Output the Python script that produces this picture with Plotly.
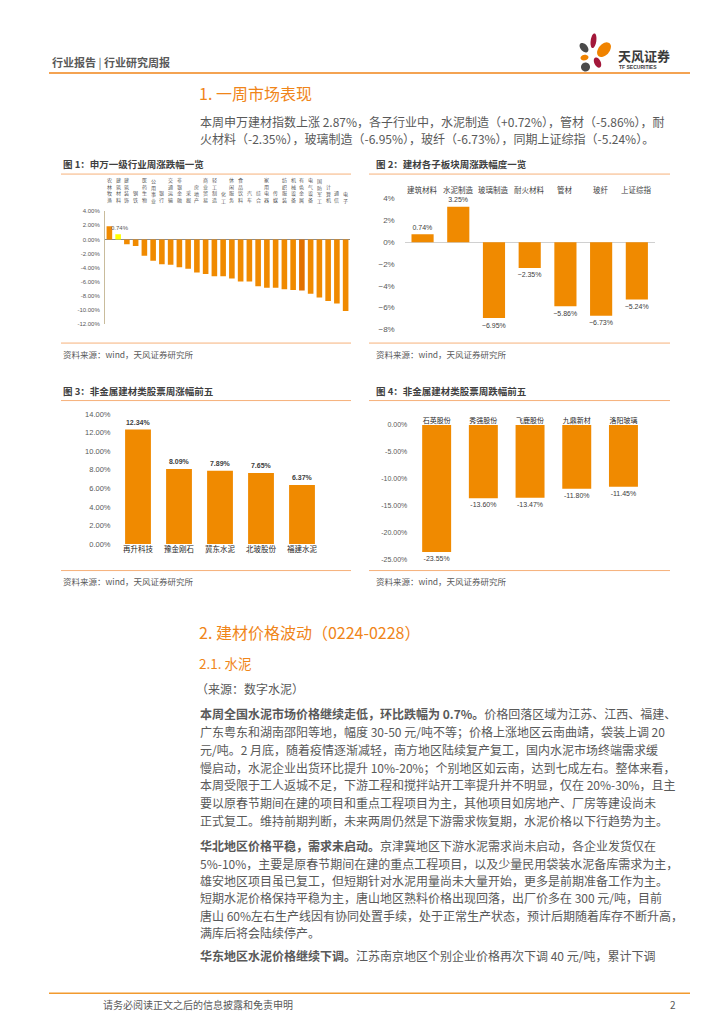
import numpy as np
import plotly.graph_objects as go

W, H = 724, 1024
def px(x): return x / W
def py(y): return 1 - y / H

# ---------------- data ----------------
industries = ["农林牧渔", "建筑材料", "建筑装饰", "钢铁", "医药生物", "公用事业", "银行",
              "交通运输", "非银金融", "采掘", "房地产", "商业贸易", "轻工制造", "化工",
              "休闲服务", "食品饮料", "汽车", "综合", "家用电器", "传媒", "纺织服装",
              "机械设备", "有色金属", "电气设备", "国防军工", "计算机", "通信", "电子"]
industry_chg = [1.88, 0.74, -0.66, -0.94, -2.30, -3.00, -3.50, -3.57, -3.94, -4.13,
                -4.69, -4.88, -5.20, -5.20, -5.54, -5.96, -5.96, -6.62, -6.85, -6.85,
                -7.04, -7.14, -7.23, -7.70, -8.20, -8.70, -9.06, -10.14]

sub_names = ["建筑材料", "水泥制造", "玻璃制造", "耐火材料", "管材", "玻纤", "上证综指"]
sub_chg = [0.74, 3.25, -6.95, -2.35, -5.86, -6.73, -5.24]

gain_names = ["再升科技", "豫金刚石", "冀东水泥", "北玻股份", "福建水泥"]
gain_chg = [12.34, 8.09, 7.89, 7.65, 6.37]

loss_names = ["石英股份", "秀强股份", "飞鹿股份", "九鼎新材", "洛阳玻璃"]
loss_chg = [-23.55, -13.60, -13.47, -11.80, -11.45]

ticks1 = [4, 2, 0, -2, -4, -6, -8, -10, -12]
ticks2 = [4, 2, 0, -2, -4, -6, -8]
ticks3 = [0, 2, 4, 6, 8, 10, 12, 14]
ticks4 = [0, -5, -10, -15, -20, -25]

# ---------------- styles ----------------
ORANGE = "#F08A00"
HEAD = "#F08519"
LINE_LIGHT = "#F6B17A"
GREY = "#595959"
DARK = "#404040"
CJK = "Noto Sans CJK SC"
NUMF = "Liberation Sans, Noto Sans CJK SC"

fig = go.Figure()

# chart 1
c1_colors = [ORANGE] * len(industries)
c1_colors[1] = "#FFFF00"
c1_colors[22] = "#E27000"
fig.add_trace(go.Bar(x=industries, y=industry_chg, marker=dict(color=c1_colors, line=dict(width=0)),
                     width=0.64, xaxis="x", yaxis="y", showlegend=False))

# chart 2
def fmt_minus(v):
    return f"{v:.2f}%".replace("-", "−")
fig.add_trace(go.Bar(x=sub_names, y=sub_chg, marker=dict(color=ORANGE, line=dict(width=0)),
                     width=0.62, xaxis="x2", yaxis="y2", showlegend=False,
                     text=[fmt_minus(v) for v in sub_chg], textposition="outside",
                     textfont=dict(family=NUMF, size=8.5, color=DARK), cliponaxis=False))

# chart 3
fig.add_trace(go.Bar(x=gain_names, y=gain_chg, marker=dict(color=ORANGE, line=dict(width=0)),
                     width=0.63, xaxis="x3", yaxis="y3", showlegend=False,
                     text=[f"<b>{v:.2f}%</b>" for v in gain_chg], textposition="outside",
                     textfont=dict(family=NUMF, size=7.5, color=DARK), cliponaxis=False))

# chart 4
fig.add_trace(go.Bar(x=loss_names, y=loss_chg, marker=dict(color=ORANGE, line=dict(width=0)),
                     width=0.62, xaxis="x4", yaxis="y4", showlegend=False,
                     text=[f"{v:.2f}%" for v in loss_chg], textposition="outside",
                     textfont=dict(family=NUMF, size=7, color=DARK), cliponaxis=False))

ax_common = dict(showgrid=False, zeroline=False, fixedrange=True)

fig.update_layout(
    width=W, height=H, margin=dict(l=0, r=0, t=0, b=0),
    paper_bgcolor="white", plot_bgcolor="rgba(0,0,0,0)",
    font=dict(family=CJK, color=GREY),
    uniformtext=dict(minsize=5, mode="show"),
    xaxis=dict(domain=[px(97), px(342)], anchor="y", showticklabels=False, ticks="",
               range=[-0.5, len(industries) - 0.5], **ax_common),
    yaxis=dict(domain=[py(315), py(201)], anchor="x", range=[-12, 4], tickvals=ticks1,
               ticktext=[f"{t:.2f}%" for t in ticks1], showline=True, linecolor="#C9BC9C",
               linewidth=1, ticks="", ticklabelstandoff=3,
               tickfont=dict(family=NUMF, size=6, color=GREY), showgrid=False,
               zeroline=True, zerolinecolor="#8C8C8C", zerolinewidth=1, fixedrange=True),
    xaxis2=dict(domain=[px(396.7), px(646.7)], anchor="y2", showticklabels=False, ticks="",
                range=[-0.5, len(sub_names) - 0.5], **ax_common),
    yaxis2=dict(domain=[py(320.3), py(188.3)], anchor="x2", range=[-8, 4], tickvals=ticks2,
                ticktext=[(f"{t}%").replace("-", "−") for t in ticks2], ticks="",
                ticklabelstandoff=9, tickfont=dict(family=NUMF, size=8, color=GREY),
                showgrid=False, zeroline=True, zerolinecolor="#D0D0D0", zerolinewidth=1,
                fixedrange=True),
    xaxis3=dict(domain=[px(109.5), px(314.5)], anchor="y3", ticks="",
                range=[-0.5, len(gain_names) - 0.5],
                tickfont=dict(family=CJK, size=7.5, color="#262626"), **ax_common),
    yaxis3=dict(domain=[py(536.7), py(405.7)], anchor="x3", range=[0, 14], tickvals=ticks3,
                ticktext=[f"{t:.2f}%" for t in ticks3], ticks="", ticklabelstandoff=6,
                tickfont=dict(family=NUMF, size=7.5, color=GREY), **ax_common),
    xaxis4=dict(domain=[px(405.3), px(638.8)], anchor="y4", side="top", ticks="",
                range=[-0.5, len(loss_names) - 0.5],
                tickfont=dict(family=CJK, size=7, color="#262626"), **ax_common),
    yaxis4=dict(domain=[py(552.7), py(416.7)], anchor="x4", range=[-25, 0], tickvals=ticks4,
                ticktext=[f"{t:.2f}%" for t in ticks4], ticks="", ticklabelstandoff=5,
                tickfont=dict(family=NUMF, size=7, color=GREY), **ax_common),
)

ann = []
def text(x, y, t, size=12, color=GREY, xanchor="left", family=CJK, yanchor="middle"):
    ann.append(dict(x=px(x), y=py(y), xref="paper", yref="paper", text=t, showarrow=False,
                    xanchor=xanchor, yanchor=yanchor,
                    font=dict(family=family, size=size, color=color)))

# chart 1 vertical category labels
for name in industries:
    ann.append(dict(x=name, y=py(196), xref="x", yref="paper", text="<br>".join(name),
                    showarrow=False, xanchor="center", yanchor="bottom",
                    font=dict(family=CJK, size=5, color=GREY)))
# chart 1 highlighted value
ann.append(dict(x=industries[1], y=industry_chg[1], xref="x", yref="y", text="0.74%",
                showarrow=False, xanchor="center", yanchor="bottom", yshift=1, xshift=2,
                font=dict(family=NUMF, size=6, color=GREY)))
# chart 2 category labels
for name in sub_names:
    ann.append(dict(x=name, y=py(179), xref="x2", yref="paper", text=name,
                    showarrow=False, xanchor="center", yanchor="middle",
                    font=dict(family=CJK, size=7.5, color=DARK)))

# header
text(42, 50, "<b>行业报告</b> | <b>行业研究周报</b>", size=11, color="#595959")
text(608, 44, "<b>天风证券</b>", size=13, color="#3A3A3A")
text(609, 55.5, "<b>TF SECURITIES</b>", size=5, color="#3A3A3A", family="Liberation Sans")

# section 1
text(189, 82, "1. 一周市场表现", size=16, color=HEAD)
text(190, 110, "本周申万建材指数上涨 2.87%，各子行业中，水泥制造（+0.72%），管材（-5.86%），耐", size=12)
text(190, 128, "火材料（-2.35%），玻璃制造（-6.95%），玻纤（-6.73%），同期上证综指（-5.24%）。", size=12)

# chart titles/sources
text(53, 153, "<b>图 1：申万一级行业周涨跌幅一览</b>", size=9.5, color=DARK)
text(366, 153, "<b>图 2：建材各子板块周涨跌幅度一览</b>", size=9.5, color=DARK)
text(53, 382, "<b>图 3：非金属建材类股票周涨幅前五</b>", size=9.5, color=DARK)
text(366, 382, "<b>图 4：非金属建材类股票周跌幅前五</b>", size=9.5, color=DARK)
for (x, y) in [(53, 345), (366, 345), (53, 574), (366, 574)]:
    text(x, y, "资料来源：wind，天风证券研究所", size=8.5, color=GREY)

# section 2
text(189, 626, "2. 建材价格波动（0224-0228）", size=16, color=HEAD)
text(189, 657, "2.1. 水泥", size=13.5, color=HEAD)
text(186, 683, "（来源：数字水泥）", size=12)

p1 = ["<b>本周全国水泥市场价格继续走低，环比跌幅为 0.7%。</b>价格回落区域为江苏、江西、福建、",
      "广东粤东和湖南邵阳等地，幅度 30-50 元/吨不等；价格上涨地区云南曲靖，袋装上调 20",
      "元/吨。2 月底，随着疫情逐渐减轻，南方地区陆续复产复工，国内水泥市场终端需求缓",
      "慢启动，水泥企业出货环比提升 10%-20%；个别地区如云南，达到七成左右。整体来看，",
      "本周受限于工人返城不足，下游工程和搅拌站开工率提升并不明显，仅在 20%-30%，且主",
      "要以原春节期间在建的项目和重点工程项目为主，其他项目如房地产、厂房等建设尚未",
      "正式复工。维持前期判断，未来两周仍然是下游需求恢复期，水泥价格以下行趋势为主。"]
for i, t in enumerate(p1):
    text(190, 708 + 17.9 * i, t, size=12)

p2 = ["<b>华北地区价格平稳，需求未启动。</b>京津冀地区下游水泥需求尚未启动，各企业发货仅在",
      "5%-10%，主要是原春节期间在建的重点工程项目，以及少量民用袋装水泥备库需求为主，",
      "雄安地区项目虽已复工，但短期针对水泥用量尚未大量开始，更多是前期准备工作为主。",
      "短期水泥价格保持平稳为主，唐山地区熟料价格出现回落，出厂价多在 300 元/吨，目前",
      "唐山 60%左右生产线因有协同处置手续，处于正常生产状态，预计后期随着库存不断升高，",
      "满库后将会陆续停产。"]
for i, t in enumerate(p2):
    text(190, 841 + 17.6 * i, t, size=12)

text(190, 952, "<b>华东地区水泥价格继续下调。</b>江苏南京地区个别企业价格再次下调 40 元/吨，累计下调", size=12)

# footer
text(93, 1001, "请务必阅读正文之后的信息披露和免责申明", size=10, color=GREY)
text(670, 1001, "2", size=10, color=GREY, xanchor="right")

fig.update_layout(annotations=ann)

# lines
shapes = []
def hline(y, x0, x1, color, w=1):
    shapes.append(dict(type="line", xref="paper", yref="paper", x0=px(x0), x1=px(x1),
                       y0=py(y), y1=py(y), line=dict(color=color, width=w)))
hline(61.5, 41, 682, HEAD, 1.5)
hline(990, 41, 682, "#F29A2E", 1.5)
for (x0, x1) in [(53, 343), (361, 662)]:
    hline(163.5, x0, x1, LINE_LIGHT, 1)
    hline(334, x0, x1, LINE_LIGHT, 1)
    hline(392, x0, x1, LINE_LIGHT, 1)
    hline(563.5, x0, x1, LINE_LIGHT, 1)

# logo petals
def petal(cx, cy, rx, ry, ang, color):
    t = np.linspace(0, 2 * np.pi, 40)
    a = np.deg2rad(ang)
    xs = cx + rx * np.cos(t) * np.cos(a) - ry * np.sin(t) * np.sin(a)
    ys = cy + rx * np.cos(t) * np.sin(a) + ry * np.sin(t) * np.cos(a)
    pts = [f"{px(x):.5f},{py(y):.5f}" for x, y in zip(xs, ys)]
    shapes.append(dict(type="path", xref="paper", yref="paper",
                       path="M" + " L".join(pts) + " Z", fillcolor=color,
                       line=dict(width=0)))
petal(576, 36, 3.5, 5.5, -40, "#4A4A4A")
petal(585.5, 29, 2.8, 7.5, 8, "#A3173A")
petal(596, 38, 5.5, 8.5, 40, "#F08300")
petal(576.5, 46, 4, 2.8, -10, "#F08300")
petal(589.5, 51, 3.2, 5.5, -25, "#A3173A")
petal(577.5, 55.5, 4.5, 4.5, 0, "#4A4A4A")

fig.update_layout(shapes=shapes)

fig.write_html("out.html")
